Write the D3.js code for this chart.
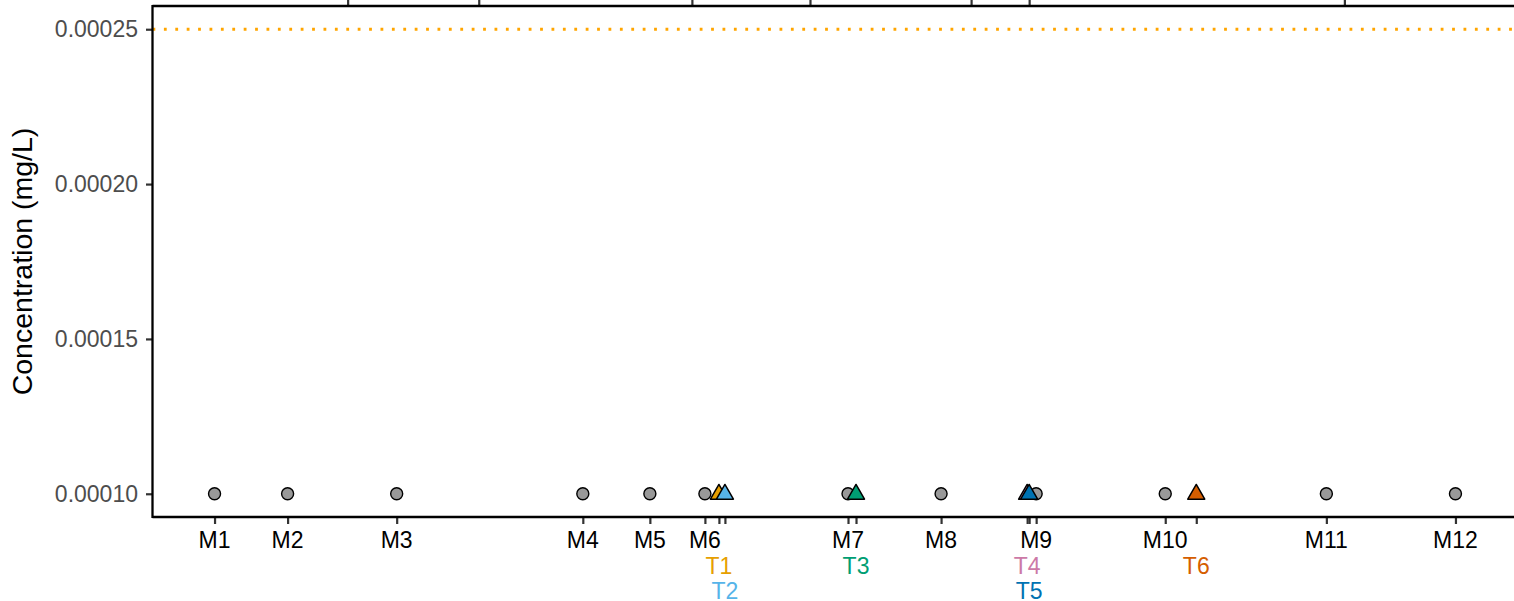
<!DOCTYPE html>
<html>
<head>
<meta charset="utf-8">
<script src="https://cdn.jsdelivr.net/npm/d3@7"></script>
<style>
  html, body { margin: 0; padding: 0; background: #fff; }
  svg { display: block; font-family: "Liberation Sans", Arial, sans-serif; }
</style>
</head>
<body>
<svg id="chart" width="1514" height="601"></svg>
<script>
// Monitoring sites (M) along the river, distance in km
const mSites = ["M1", "M2", "M3", "M4", "M5", "M6", "M7", "M8", "M9", "M10", "M11", "M12"];
const mDist  = [0, 7.3, 18.2, 36.8, 43.5, 49.0, 63.3, 72.6, 82.1, 95.0, 111.1, 124.0];
const mConc  = [0.0001, 0.0001, 0.0001, 0.0001, 0.0001, 0.0001, 0.0001, 0.0001, 0.0001, 0.0001, 0.0001, 0.0001];

// Tributary sites (T)
const tSites = ["T1", "T2", "T3", "T4", "T5", "T6"];
const tDist  = [50.4, 51.0, 64.1, 81.2, 81.4, 98.1];
const tConc  = [0.0001, 0.0001, 0.0001, 0.0001, 0.0001, 0.0001];
const tColors = ["#E69F00", "#56B4E9", "#009E73", "#CC79A7", "#0072B2", "#D55E00"];
const tLabelRow = [1, 2, 1, 1, 2, 1];

// Reference features marked on the top axis
const topMarks = [13.3, 26.4, 47.7, 59.5, 75.6, 81.4, 112.9];

// Guideline value and y ticks
const guideline = 0.00025;
const yTicks = [0.00010, 0.00015, 0.00020, 0.00025];

const svg = d3.select("#chart");
const panel = { left: 152.5, right: 1517.5, top: 6, bottom: 517 };

const allDist = mDist.concat(tDist);
const xMin = d3.min(allDist), xMax = d3.max(allDist);
const xPad = (xMax - xMin) * 0.05;
const x = d3.scaleLinear().domain([xMin - xPad, xMax + xPad]).range([panel.left, panel.right]);

const allConc = mConc.concat(tConc, [guideline]);
const yMin = d3.min(allConc), yMax = d3.max(allConc);
const yPad = (yMax - yMin) * 0.05;
const y = d3.scaleLinear().domain([yMin - yPad, yMax + yPad]).range([panel.bottom, panel.top]);

// Guideline
svg.append("line")
  .attr("x1", panel.left).attr("x2", panel.right)
  .attr("y1", y(guideline)).attr("y2", y(guideline))
  .attr("stroke", "#FFA500").attr("stroke-width", 2.8)
  .attr("stroke-dasharray", "2.8,8.6");

// Axes
const tickStyle = g => {
  g.select(".domain").remove();
  g.selectAll(".tick line").attr("stroke", "#333333").attr("stroke-width", 2.2);
};

// Left axis
const yAxis = svg.append("g")
  .attr("transform", `translate(${panel.left},0)`)
  .call(d3.axisLeft(y).tickValues(yTicks).tickFormat(d3.format(".5f")).tickSizeOuter(0).tickSize(6.5).tickPadding(8))
  .call(tickStyle);
yAxis.selectAll(".tick text")
  .attr("fill", "#4D4D4D").attr("font-size", 23).attr("font-family", "Liberation Sans, Arial, sans-serif");

// Bottom axis: monitoring + tributary positions
const bottomTicks = mDist.concat(tDist);
svg.append("g")
  .attr("transform", `translate(0,${panel.bottom})`)
  .call(d3.axisBottom(x).tickValues(bottomTicks).tickFormat("").tickSizeOuter(0).tickSize(7))
  .call(tickStyle);

// Top axis marks
svg.append("g")
  .attr("transform", `translate(0,${panel.top})`)
  .call(d3.axisTop(x).tickValues(topMarks).tickFormat("").tickSizeOuter(0).tickSize(7))
  .call(tickStyle);

// Axis lines
svg.append("line").attr("x1", panel.left).attr("x2", panel.left)
  .attr("y1", panel.top - 1.1).attr("y2", panel.bottom + 1.1)
  .attr("stroke", "#000").attr("stroke-width", 2.3);
svg.append("line").attr("x1", panel.left).attr("x2", panel.right)
  .attr("y1", panel.bottom).attr("y2", panel.bottom)
  .attr("stroke", "#000").attr("stroke-width", 2.3);
svg.append("line").attr("x1", panel.left).attr("x2", panel.right)
  .attr("y1", panel.top).attr("y2", panel.top)
  .attr("stroke", "#000").attr("stroke-width", 2.3);

// Site labels
svg.append("g").selectAll("text").data(mSites).join("text")
  .attr("x", (d, i) => x(mDist[i]))
  .attr("y", 548)
  .attr("text-anchor", "middle")
  .attr("font-size", 23)
  .attr("fill", "#000")
  .text(d => d);

svg.append("g").selectAll("text").data(tSites).join("text")
  .attr("x", (d, i) => x(tDist[i]))
  .attr("y", (d, i) => 548 + 25.5 * tLabelRow[i])
  .attr("text-anchor", "middle")
  .attr("font-size", 23)
  .attr("fill", (d, i) => tColors[i])
  .text(d => d);

// Y axis title
svg.append("text")
  .attr("transform", `translate(31.5,${(panel.top + panel.bottom) / 2}) rotate(-90)`)
  .attr("text-anchor", "middle")
  .attr("font-size", 28.5)
  .attr("fill", "#000")
  .text("Concentration (mg/L)");

// Monitoring site points
svg.append("g").selectAll("circle").data(mSites).join("circle")
  .attr("cx", (d, i) => x(mDist[i]))
  .attr("cy", (d, i) => y(mConc[i]))
  .attr("r", 6)
  .attr("fill", "#999999")
  .attr("stroke", "#000")
  .attr("stroke-width", 1.4);

// Tributary points
const tri = d3.symbol().type(d3.symbolTriangle).size(125);
svg.append("g").selectAll("path").data(tSites).join("path")
  .attr("d", tri)
  .attr("transform", (d, i) => `translate(${x(tDist[i])},${y(tConc[i]) + 0.5})`)
  .attr("fill", (d, i) => tColors[i])
  .attr("stroke", "#000")
  .attr("stroke-width", 1.5)
  .attr("stroke-linejoin", "round");
</script>
</body>
</html>
